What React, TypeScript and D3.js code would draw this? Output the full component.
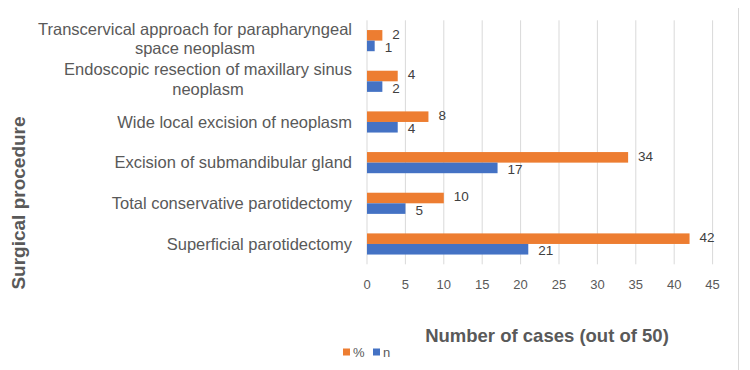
import React from 'react';
import * as d3 from 'd3';

// ==== data

const categories = [
    'Superficial parotidectomy',
    'Total conservative parotidectomy',
    'Excision of submandibular gland',
    'Wide local excision of neoplasm',
    'Endoscopic resection of maxillary sinus neoplasm',
    'Transcervical approach for parapharyngeal space neoplasm',
];

// label lines as wrapped in the original
const categoryLines = [
    ['Superficial parotidectomy'],
    ['Total conservative parotidectomy'],
    ['Excision of submandibular gland'],
    ['Wide local excision of neoplasm'],
    ['Endoscopic resection of maxillary sinus', 'neoplasm'],
    ['Transcervical approach for parapharyngeal', 'space neoplasm'],
];

const seriesN = [21, 5, 17, 4, 2, 1];
const seriesPct = [42, 10, 34, 8, 4, 2];
const xTicks = [0, 5, 10, 15, 20, 25, 30, 35, 40, 45];

const ORANGE = '#ED7D31';
const BLUE = '#4472C4';
const TEXT = '#595959';
const FONT = '"Liberation Sans", Arial, sans-serif';

// ====

class App extends React.Component {
    node: SVGSVGElement | null = null;

    componentDidMount() {
        this.draw();
    }

    draw() {
        const svg = d3.select(this.node);
        svg.selectAll('*').remove();

        const left = 367, right = 712.6, top = 20.3, bottom = 264.3;
        const labelRight = 352;

        const x = d3.scaleLinear().domain([0, 45]).range([left, right]);
        // bottom-to-top like Excel
        const y = d3.scaleBand().domain(categories).range([bottom, top]).paddingInner(0.48).paddingOuter(0.24);
        const inner = d3.scaleBand().domain(['pct', 'n']).range([0, y.bandwidth()]);

        // chart border
        svg.append('rect')
            .attr('x', 0.5).attr('y', 2.5)
            .attr('width', 738).attr('height', 370)
            .attr('fill', 'white')
            .attr('stroke', '#d9d9d9');

        // gridlines
        svg.append('g')
            .selectAll('line')
            .data(xTicks)
            .enter()
            .append('line')
            .attr('x1', (d) => x(d)).attr('x2', (d) => x(d))
            .attr('y1', top).attr('y2', bottom)
            .attr('stroke', '#d9d9d9')
            .attr('stroke-width', 1);

        // tick labels
        svg.append('g')
            .selectAll('text')
            .data(xTicks)
            .enter()
            .append('text')
            .attr('x', (d) => x(d))
            .attr('y', 284)
            .attr('dy', '0.35em')
            .attr('text-anchor', 'middle')
            .attr('fill', TEXT)
            .attr('font-family', FONT)
            .attr('font-size', 13)
            .text((d) => d);

        const groups = svg.append('g')
            .selectAll('g')
            .data(categories)
            .enter()
            .append('g')
            .attr('transform', (d) => 'translate(0,' + y(d) + ')');

        const bars = [
            { key: 'pct', values: seriesPct, color: ORANGE },
            { key: 'n', values: seriesN, color: BLUE },
        ];

        bars.forEach((s) => {
            groups.append('rect')
                .attr('x', x(0))
                .attr('y', inner(s.key))
                .attr('width', (d, i) => x(s.values[i]) - x(0))
                .attr('height', inner.bandwidth())
                .attr('fill', s.color);

            groups.append('text')
                .attr('x', (d, i) => x(s.values[i]) + 10)
                .attr('y', (inner(s.key) as number) + inner.bandwidth() / 2 + (s.key === 'n' ? 1.5 : -1.5))
                .attr('dy', '0.35em')
                .attr('fill', '#404040')
                .attr('font-family', FONT)
                .attr('font-size', 13.5)
                .text((d, i) => s.values[i]);
        });

        // category labels, wrapped lines centred on the longest line
        groups.each(function (d, i) {
            const lines = categoryLines[i];
            const g = d3.select(this);
            const cy = y.bandwidth() / 2 - (lines.length > 1 ? 2 : 0);
            const lh = 19.5;
            const texts = lines.map((line, j) =>
                g.append('text')
                    .attr('y', cy + (j - (lines.length - 1) / 2) * lh)
                    .attr('dy', '0.35em')
                    .attr('text-anchor', 'middle')
                    .attr('fill', TEXT)
                    .attr('font-family', FONT)
                    .attr('font-size', 16.5)
                    .text(line));
            const widest = d3.max(texts, (t) => (t.node() as SVGTextElement).getComputedTextLength()) || 0;
            texts.forEach((t) => t.attr('x', labelRight - widest / 2));
        });

        // axis titles
        svg.append('text')
            .attr('transform', 'translate(18,203) rotate(-90)')
            .attr('text-anchor', 'middle')
            .attr('dy', '0.35em')
            .attr('fill', TEXT)
            .attr('font-family', FONT)
            .attr('font-weight', 'bold')
            .attr('font-size', 19)
            .text('Surgical procedure');

        svg.append('text')
            .attr('x', 547)
            .attr('y', 336)
            .attr('dy', '0.35em')
            .attr('text-anchor', 'middle')
            .attr('fill', TEXT)
            .attr('font-family', FONT)
            .attr('font-weight', 'bold')
            .attr('font-size', 18.5)
            .text('Number of cases (out of 50)');

        // legend
        const legend = [
            { label: '%', color: ORANGE, x: 343 },
            { label: 'n', color: BLUE, x: 373 },
        ];
        const lg = svg.append('g')
            .selectAll('g')
            .data(legend)
            .enter()
            .append('g')
            .attr('transform', (d) => 'translate(' + d.x + ',352)');
        lg.append('rect')
            .attr('x', 0).attr('y', -3.5)
            .attr('width', 7).attr('height', 7)
            .attr('fill', (d) => d.color);
        lg.append('text')
            .attr('x', 10)
            .attr('dy', '0.35em')
            .attr('fill', TEXT)
            .attr('font-family', FONT)
            .attr('font-size', 13)
            .text((d) => d.label);
    }

    render() {
        return (
            <svg
                ref={(node) => { this.node = node; }}
                width={742}
                height={370}
                style={{ display: 'block', margin: '-8px 0 0 -8px' }}>
            </svg>
        );
    }
}

export default App;
